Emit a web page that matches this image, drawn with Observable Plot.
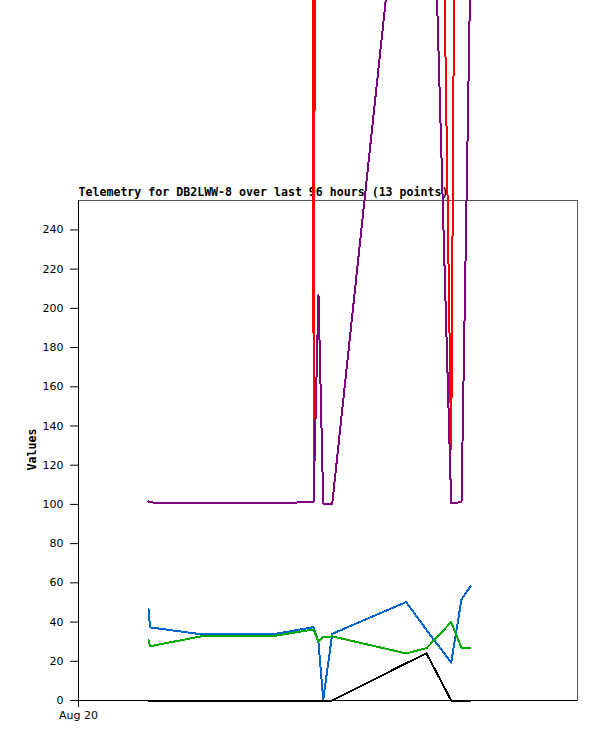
<!DOCTYPE html>
<html><head><meta charset="utf-8">
<script src="https://cdn.jsdelivr.net/npm/d3@7"></script>
<script src="https://cdn.jsdelivr.net/npm/@observablehq/plot@0.6"></script>
<style>
body{margin:0;background:#fff}
#chart svg{overflow:visible;display:block}
</style>
</head><body><div id="chart"></div>
<script>
const title = "Telemetry for DB2LWW-8 over last 96 hours (13 points)";
const yLabel = "Values";
const times = ["2024-08-20T13:28Z","2024-08-20T13:46Z","2024-08-20T23:48Z","2024-08-21T13:16Z",
  "2024-08-21T21:13Z","2024-08-21T22:10Z","2024-08-21T23:05Z","2024-08-22T00:49Z",
  "2024-08-22T15:02Z","2024-08-22T18:57Z","2024-08-22T23:42Z","2024-08-23T01:41Z","2024-08-23T03:25Z"];
const ch1 = [100000,100000,100000,100000,114,1050,1000,1000,1000,1000,128,970,1000]; // red
const ch2 = [101.5,101,100.5,100.5,101.3,207,100.4,100.4,455,550,100.5,101.2,377];   // purple
const ch3 = [46.5,37.3,33.7,33.7,37.4,29.8,0.5,34,50.2,36,19.3,51.6,58.2];           // blue
const ch4 = [31,27.7,32.8,32.8,36.2,30,32.3,32.7,24,26.7,40,26.7,26.7];               // green
const ch5 = [0,0,0,0,0,0,0,0,19,24,0,0,0];                                            // black
const seriesNames = ["ch1","ch2","ch3","ch4","ch5"];
const seriesValues = [ch1,ch2,ch3,ch4,ch5];
const seriesColors = ["#ff0000","#800080","#0066cc","#00aa00","#000000"];
const yTicks = [0,20,40,60,80,100,120,140,160,180,200,220,240];
const xTicks = ["2024-08-20T00:00Z"];
const xDomain = ["2024-08-20T00:00Z","2024-08-24T00:00Z"];
const yDomain = [0,255];

const dates = times.map(t => new Date(t));
const lineMarks = seriesNames.map((name, i) =>
  Plot.line(dates.map((d, j) => ({t: d, v: seriesValues[i][j]})), {
    x: "t", y: "v", stroke: seriesColors[i], strokeWidth: 2, shapeRendering: "crispEdges"
  })
);

const chart = Plot.plot({
  width: 597,
  height: 741,
  marginTop: 200,
  marginBottom: 41,
  marginLeft: 78,
  marginRight: 20,
  style: {fontFamily: "DejaVu Sans", fontSize: "11px", background: "#fff", color: "#000"},
  x: {type: "utc", domain: xDomain.map(d => new Date(d)), ticks: xTicks.map(d => new Date(d)),
      tickFormat: d3.utcFormat("%b %d"), tickSize: 7, tickPadding: 4, label: null},
  y: {domain: yDomain, ticks: yTicks, tickSize: 8, tickPadding: 7, label: null},
  marks: [
    Plot.frame({stroke: "#555", strokeWidth: 1, shapeRendering: "crispEdges"}),
    Plot.ruleY([yDomain[0]], {stroke: "#000", strokeWidth: 1.5, shapeRendering: "crispEdges"}),
    Plot.ruleX([new Date(xDomain[0])], {stroke: "#000", strokeWidth: 1.5, shapeRendering: "crispEdges"}),
    Plot.text([title], {frameAnchor: "top-left", textAnchor: "start", lineAnchor: "middle", dy: -8,
      fontFamily: "DejaVu Sans Mono", fontWeight: "bold", fontSize: 11.6, fill: "#000"}),
    Plot.text([yLabel], {frameAnchor: "left", rotate: -90, dx: -46, dy: 20,
      fontFamily: "DejaVu Sans Mono", fontWeight: "bold", fontSize: 11.6, fill: "#000"}),
    ...lineMarks
  ]
});
document.getElementById("chart").appendChild(chart);
</script>
</body></html>
